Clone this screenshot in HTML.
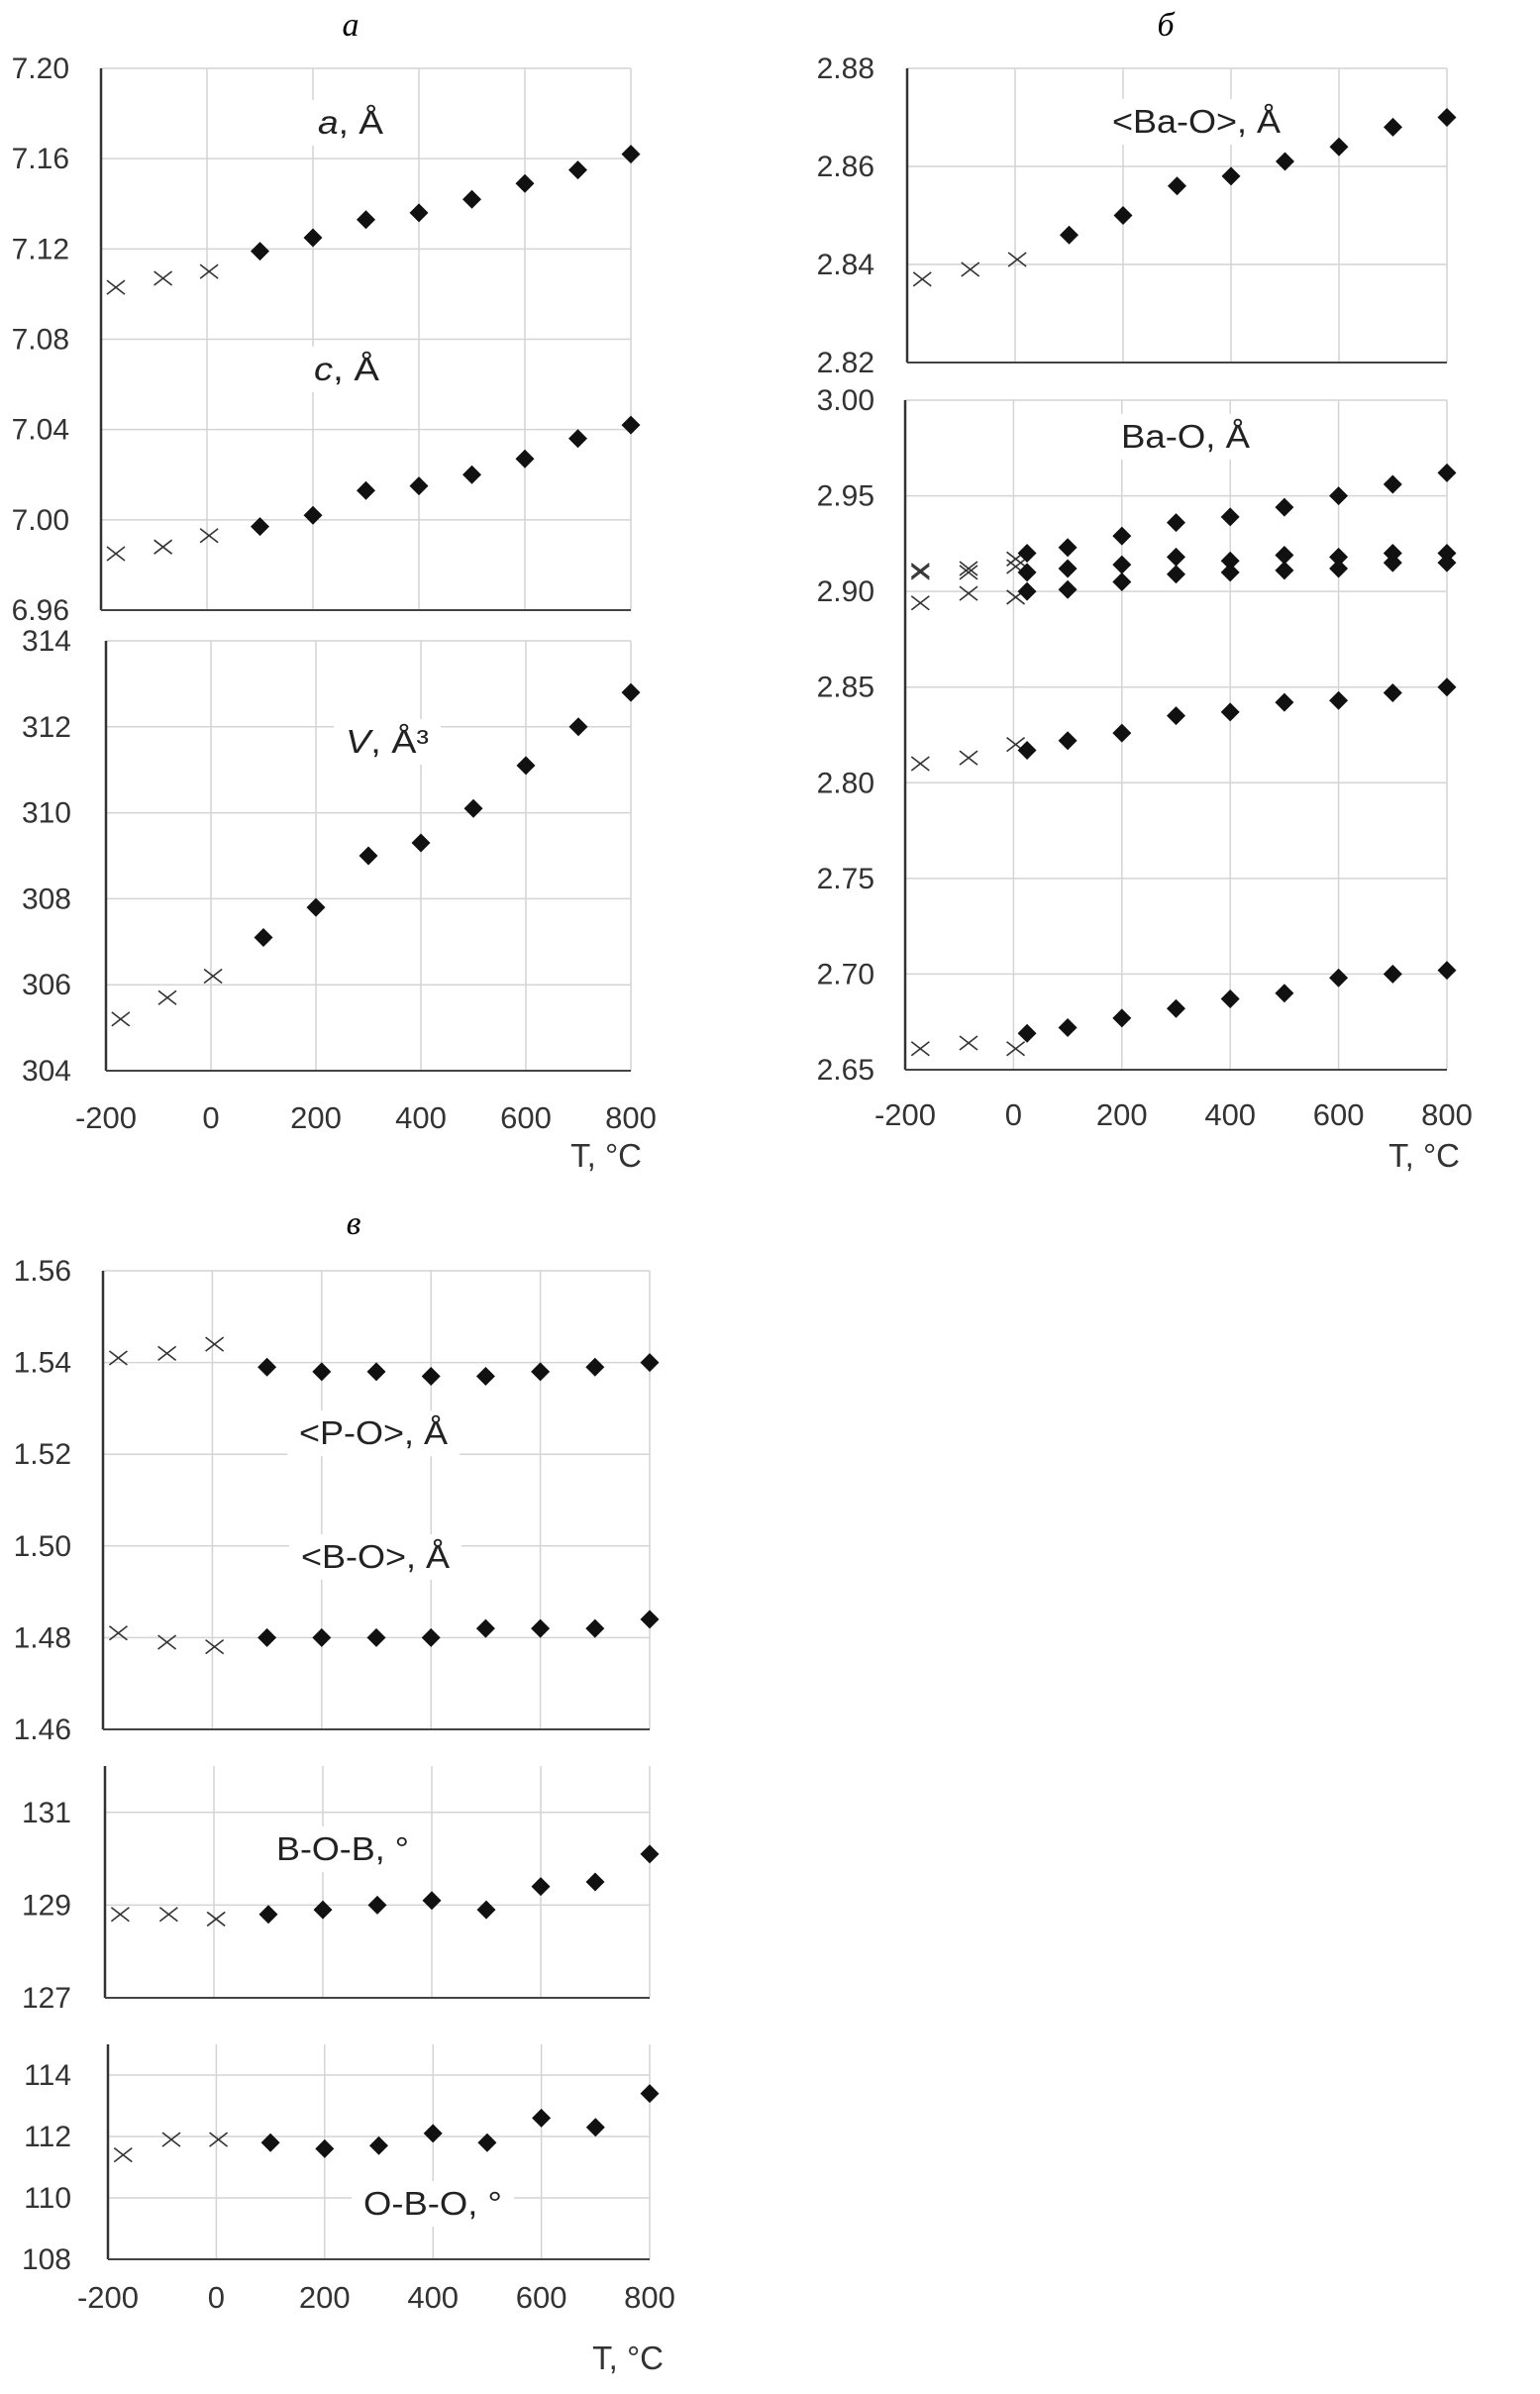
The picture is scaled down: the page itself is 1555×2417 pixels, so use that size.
<!DOCTYPE html>
<html><head><meta charset="utf-8">
<style>
html,body{margin:0;padding:0;background:#fff;}
svg{display:block;font-family:"Liberation Sans","DejaVu Sans",sans-serif;}
</style></head>
<body>
<svg id="fig" width="1555" height="2417" viewBox="0 0 1555 2417" xmlns="http://www.w3.org/2000/svg">
<rect width="1555" height="2417" fill="#fff"/>
<text x="354" y="36" font-family="Liberation Serif" font-style="italic" font-size="34" text-anchor="middle">а</text>
<text x="1177" y="36" font-family="Liberation Serif" font-style="italic" font-size="34" text-anchor="middle">б</text>
<text x="357" y="1246" font-family="Liberation Serif" font-style="italic" font-size="34" text-anchor="middle">в</text>
</svg>
<script>
// ---- data ----
var tCross = [-172, -83, 4];
var tDiamA = [100, 200, 300, 400, 500, 600, 700, 800];
var tDiamB = [25, 100, 200, 300, 400, 500, 600, 700, 800];
var xTicks = [-200, 0, 200, 400, 600, 800];

var aCross = [7.103, 7.107, 7.110];
var aDiam = [7.119, 7.125, 7.133, 7.136, 7.142, 7.149, 7.155, 7.162];
var cCross = [6.985, 6.988, 6.993];
var cDiam = [6.997, 7.002, 7.013, 7.015, 7.020, 7.027, 7.036, 7.042];
var vCross = [305.2, 305.7, 306.2];
var vDiam = [307.1, 307.8, 309.0, 309.3, 310.1, 311.1, 312.0, 312.8];

var baMeanCross = [2.837, 2.839, 2.841];
var baMeanDiam = [2.846, 2.850, 2.856, 2.858, 2.861, 2.864, 2.868, 2.870];

var ba1Cross = [2.911, 2.912, 2.917];
var ba1Diam = [2.920, 2.923, 2.929, 2.936, 2.939, 2.944, 2.950, 2.956, 2.962];
var ba2Cross = [2.910, 2.910, 2.913];
var ba2Diam = [2.910, 2.912, 2.914, 2.918, 2.916, 2.919, 2.918, 2.920, 2.920];
var ba3Cross = [2.894, 2.899, 2.897];
var ba3Diam = [2.900, 2.901, 2.905, 2.909, 2.910, 2.911, 2.912, 2.915, 2.915];
var ba4Cross = [2.810, 2.813, 2.820];
var ba4Diam = [2.817, 2.822, 2.826, 2.835, 2.837, 2.842, 2.843, 2.847, 2.850];
var ba5Cross = [2.661, 2.664, 2.661];
var ba5Diam = [2.669, 2.672, 2.677, 2.682, 2.687, 2.690, 2.698, 2.700, 2.702];

var poCross = [1.541, 1.542, 1.544];
var poDiam = [1.539, 1.538, 1.538, 1.537, 1.537, 1.538, 1.539, 1.540];
var boCross = [1.481, 1.479, 1.478];
var boDiam = [1.480, 1.480, 1.480, 1.480, 1.482, 1.482, 1.482, 1.484];
var bobCross = [128.8, 128.8, 128.7];
var bobDiam = [128.8, 128.9, 129.0, 129.1, 128.9, 129.4, 129.5, 130.1];
var oboCross = [111.4, 111.9, 111.9];
var oboDiam = [111.8, 111.6, 111.7, 112.1, 111.8, 112.6, 112.3, 113.4];

var ticksA1 = ["7.20","7.16","7.12","7.08","7.04","7.00","6.96"];
var ticksA2 = ["314","312","310","308","306","304"];
var ticksB1 = ["2.88","2.86","2.84","2.82"];
var ticksB2 = ["3.00","2.95","2.90","2.85","2.80","2.75","2.70","2.65"];
var ticksC1 = ["1.56","1.54","1.52","1.50","1.48","1.46"];
var ticksC2 = ["131","129","127"];
var ticksC3 = ["114","112","110","108"];

var NS = "http://www.w3.org/2000/svg";
var svg = document.getElementById('fig');
function mk(tag, attrs, parent){
  var e = document.createElementNS(NS, tag);
  for (var k in attrs) e.setAttribute(k, attrs[k]);
  (parent||svg).appendChild(e);
  return e;
}

function plot(name, box, ymin, ymax, ticks, gridMin, gridMax, showX){
  var g = mk('g', {});
  
  
  var xs = function(t){ return box.x0 + (t + 200) / 1000 * (box.x1 - box.x0); };
  var ys = function(v){ return box.yb - (v - ymin) / (ymax - ymin) * (box.yb - box.yt); };
  xTicks.forEach(function(t){
    if (t === -200) return;
    var l = mk('line', {x1: xs(t), x2: xs(t), y1: box.yt, y2: box.yb, stroke: '#d4d4d4', 'stroke-width': 1.5}, g);
    
    
  });
  ticks.forEach(function(lbl){
    var v = parseFloat(lbl);
    var y = ys(v);
    if (v !== ymin) {
      var l = mk('line', {x1: box.x0, x2: box.x1, y1: y, y2: y, stroke: '#d4d4d4', 'stroke-width': 1.5}, g);
      
      
    }
    var tx = mk('text', {x: box.lx, y: y + 10, 'font-size': 30, 'text-anchor': 'end', fill: '#333'}, g);
    tx.textContent = lbl;
    
    
  });
  var ax = mk('line', {x1: box.x0, x2: box.x0, y1: box.yt, y2: box.yb, stroke: '#333', 'stroke-width': 2.5}, g);
  
  
  var bx = mk('line', {x1: box.x0, x2: box.x1, y1: box.yb, y2: box.yb, stroke: '#444', 'stroke-width': 2}, g);
  
  
  if (showX) {
    xTicks.forEach(function(t){
      var tx = mk('text', {x: xs(t), y: showX.ly, 'font-size': 31, 'text-anchor': 'middle', fill: '#333'}, g);
      tx.textContent = String(t);
      
      
    });
    var tt = mk('text', {x: showX.tx, y: showX.ty, 'font-size': 33, 'text-anchor': 'end', fill: '#333'}, g);
    tt.textContent = 'T, °C';
    
    
  }
  return {g: g, xs: xs, ys: ys};
}

function label(p, txt, cx, by, w, italicFirst, nm){
  var bg = mk('rect', {x: cx - w/2 - 12, y: by - 34, width: w + 24, height: 46, fill: '#fff'}, p.g);
  
  
  var t = mk('text', {x: cx, y: by, 'font-size': 33, 'text-anchor': 'middle', fill: '#222', textLength: w, lengthAdjust: 'spacingAndGlyphs'}, p.g);
  if (italicFirst) {
    var s1 = mk('tspan', {'font-style': 'italic'}, t); s1.textContent = italicFirst;
    var s2 = mk('tspan', {}, t); s2.textContent = txt;
  } else t.textContent = txt;
  
  
}

function series(p, ts, vals, kind, nm){
  ts.forEach(function(t, i){
    var x = p.xs(t), y = p.ys(vals[i]);
    var e;
    if (kind === 'x') {
      e = mk('path', {d: 'M' + (x-9) + ' ' + (y-7) + 'L' + (x+9) + ' ' + (y+7) + 'M' + (x-9) + ' ' + (y+7) + 'L' + (x+9) + ' ' + (y-7), stroke: '#333', 'stroke-width': 1.6, fill: 'none'}, p.g);
    } else {
      e = mk('path', {d: 'M' + x + ' ' + (y-9.5) + 'L' + (x+9.5) + ' ' + y + 'L' + x + ' ' + (y+9.5) + 'L' + (x-9.5) + ' ' + y + 'Z', fill: '#111'}, p.g);
    }
    
    
  });
}

// Panel a
var pA1 = plot('lattice-ac-chart', {x0: 102, x1: 637, yt: 69, yb: 616, lx: 70}, 6.96, 7.20, ticksA1, 6.96, 7.20, null);
label(pA1, ', Å', 354, 135, 66, 'a', 'a-param-label');
label(pA1, ', Å', 350, 384, 66, 'c', 'c-param-label');
series(pA1, tCross, aCross, 'x', 'a-low');
series(pA1, tDiamA, aDiam, 'd', 'a-high');
series(pA1, tCross, cCross, 'x', 'c-low');
series(pA1, tDiamA, cDiam, 'd', 'c-high');

var pA2 = plot('volume-chart', {x0: 107, x1: 637, yt: 647, yb: 1081, lx: 72}, 304, 314, ticksA2, 304, 314, {ly: 1139, tx: 648, ty: 1178});
label(pA2, ', Å³', 391, 760, 84, 'V', 'volume-label');
series(pA2, tCross, vCross, 'x', 'v-low');
series(pA2, tDiamA, vDiam, 'd', 'v-high');

// Panel б
var pB1 = plot('mean-ba-o-chart', {x0: 916, x1: 1461, yt: 69, yb: 366, lx: 883}, 2.82, 2.88, ticksB1, 2.82, 2.88, null);
label(pB1, '<Ba-O>, Å', 1208, 134, 170, null, 'mean-ba-o-label');
series(pB1, tCross, baMeanCross, 'x', 'mean-ba-o-low');
series(pB1, tDiamA, baMeanDiam, 'd', 'mean-ba-o-high');

var pB2 = plot('ba-o-chart', {x0: 914, x1: 1461, yt: 404, yb: 1080, lx: 883}, 2.65, 3.00, ticksB2, 2.65, 3.00, {ly: 1136, tx: 1474, ty: 1178});
label(pB2, 'Ba-O, Å', 1197, 452, 130, null, 'ba-o-label');
[[ba1Cross, ba1Diam],[ba2Cross, ba2Diam],[ba3Cross, ba3Diam],[ba4Cross, ba4Diam],[ba5Cross, ba5Diam]].forEach(function(s, k){
  series(pB2, tCross, s[0], 'x', 'ba-o-' + (k+1) + '-low');
  series(pB2, tDiamB, s[1], 'd', 'ba-o-' + (k+1) + '-high');
});

// Panel в
var pC1 = plot('p-o-b-o-chart', {x0: 104, x1: 656, yt: 1283, yb: 1746, lx: 72}, 1.46, 1.56, ticksC1, 1.46, 1.56, null);
label(pC1, '<P-O>, Å', 377, 1458, 150, null, 'p-o-label');
label(pC1, '<B-O>, Å', 379, 1583, 150, null, 'b-o-label');
series(pC1, tCross, poCross, 'x', 'p-o-low');
series(pC1, tDiamA, poDiam, 'd', 'p-o-high');
series(pC1, tCross, boCross, 'x', 'b-o-low');
series(pC1, tDiamA, boDiam, 'd', 'b-o-high');

var pC2 = plot('b-o-b-chart', {x0: 106, x1: 656, yt: 1783, yb: 2017, lx: 72}, 127, 132, ticksC2, 127, 132, null);
label(pC2, 'B-O-B, °', 346, 1878, 134, null, 'b-o-b-label');
series(pC2, tCross, bobCross, 'x', 'b-o-b-low');
series(pC2, tDiamA, bobDiam, 'd', 'b-o-b-high');

var pC3 = plot('o-b-o-chart', {x0: 109, x1: 656, yt: 2064, yb: 2281, lx: 72}, 108, 115, ticksC3, 108, 115, {ly: 2330, tx: 670, ty: 2392});
label(pC3, 'O-B-O, °', 437, 2236, 140, null, 'o-b-o-label');
series(pC3, tCross, oboCross, 'x', 'o-b-o-low');
series(pC3, tDiamA, oboDiam, 'd', 'o-b-o-high');
</script>
</body></html>
